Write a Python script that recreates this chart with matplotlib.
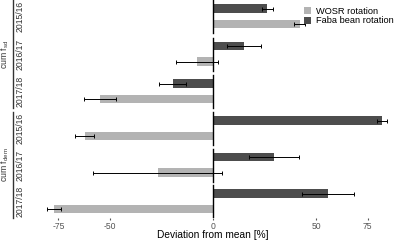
import matplotlib
matplotlib.use("Agg")
import matplotlib.pyplot as plt
from matplotlib.patches import Patch

plt.rcParams["font.family"] = ["Liberation Sans", "DejaVu Sans"]
plt.rcParams["mathtext.fontset"] = "custom"
plt.rcParams["mathtext.rm"] = "Liberation Sans"
plt.rcParams["mathtext.it"] = "Liberation Sans"

groups = ["cum f$_{\\mathrm{sd}}$", "cum f$_{\\mathrm{dem}}$"]
years = ["2015/16", "2016/17", "2017/18"]
faba_vals = [26.3, 14.9, -19.5, 81.9, 29.6, 55.7]
faba_err = [2.7, 8.3, 6.5, 2.5, 12.1, 12.5]
wosr_vals = [42.0, -7.7, -54.6, -62.3, -26.8, -77.0]
wosr_err = [2.7, 10.0, 7.8, 4.7, 31.4, 3.3]
xticks = [-75, -50, 0, 50, 75]

dark = "#4d4d4d"
light = "#b3b3b3"

fig = plt.figure(figsize=(4, 2.4), dpi=100)
L, R = 31.5, 394.5
H = 218
ax = fig.add_axes([L / 400, (240 - H) / 240, (R - L) / 400, H / 240])
ax.set_xlim(-88, 88)
ax.set_ylim(H, 0)

facet_tops = [0, 37.5, 75, 112, 148.5, 185]
fh = 33
for i in range(6):
    t = facet_tops[i]
    ax.barh(t + 8.5, faba_vals[i], height=8.5, color=dark, zorder=2)
    ax.barh(t + 24, wosr_vals[i], height=8.5, color=light, zorder=2)
    ax.errorbar(faba_vals[i], t + 8.5, xerr=faba_err[i], fmt="none",
                ecolor="black", elinewidth=0.7, capsize=1.5, capthick=0.7, zorder=3)
    ax.errorbar(wosr_vals[i], t + 24, xerr=wosr_err[i], fmt="none",
                ecolor="black", elinewidth=0.7, capsize=1.5, capthick=0.7, zorder=3)
    ax.plot([0, 0], [t, t + fh], color="black", lw=1.0, zorder=4)
    ax.text((20.5 - L) / (R - L), (H - (t + fh / 2)) / H, years[i % 3], rotation=90,
            transform=ax.transAxes, ha="center", va="center", fontsize=6.2,
            color="#333333")

for g in range(2):
    top = facet_tops[g * 3]
    bot = facet_tops[g * 3 + 2] + fh
    xf = (12.5 - L) / (R - L)
    ax.plot([xf, xf], [(H - top) / H, (H - bot) / H],
            transform=ax.transAxes, color="#333333", lw=1.0, clip_on=False)
    ax.text((5 - L) / (R - L), (H - (top + bot) / 2) / H, groups[g], rotation=90,
            transform=ax.transAxes, ha="center", va="center", fontsize=6.3,
            color="#333333")

for s in ax.spines.values():
    s.set_visible(False)
ax.set_yticks([])
ax.set_xticks(xticks)
ax.set_xticklabels([str(v) for v in xticks], fontsize=6.2, color="#555555")
ax.tick_params(axis="x", length=1.5, width=0.8, color="#555555", pad=1.5)
fig.text(213 / 400, 5 / 240, "Deviation from mean [%]", fontsize=7.3,
         ha="center", va="center")

handles = [Patch(facecolor=light, label="WOSR rotation"),
           Patch(facecolor=dark, label="Faba bean rotation")]
ax.legend(handles=handles, loc="upper right", bbox_to_anchor=(1.015, 1.0),
          frameon=False, fontsize=6.7, handlelength=0.8, handleheight=0.8,
          handletextpad=0.5, labelspacing=0.1, borderpad=0.2)

fig.savefig("out.png", dpi=100)
